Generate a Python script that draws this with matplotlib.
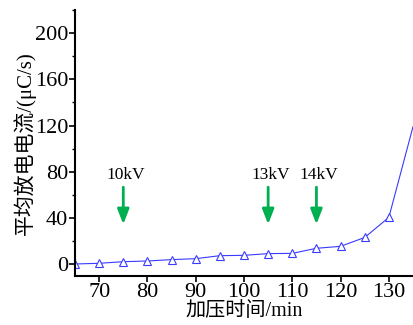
import matplotlib.pyplot as plt
from matplotlib.ticker import MultipleLocator

# data
time_min = [65, 70, 75, 80, 85, 90, 95, 100, 105, 110, 115, 120, 125, 130, 135]
current = [0, 0.6, 2, 2.6, 3.8, 4.6, 7.2, 7.5, 9, 9.2, 13.6, 15.3, 23, 40.4, 119]

arrow_x = [75, 105, 115]
arrow_labels = ["10kV", "13kV", "14kV"]

plt.rcParams['font.family'] = ['Liberation Serif', 'Noto Sans CJK SC']

fig = plt.figure(figsize=(4.13, 3.25), dpi=100)
ax = fig.add_axes([0.1816, 0.1508, 0.8184, 0.818])

# last point sits on the axis edge, no marker drawn there
ax.plot(time_min, current, color='#3a3aff', lw=0.8, marker='^', ms=6,
        markevery=slice(0, len(time_min) - 1),
        markerfacecolor='white', markeredgecolor='#3a3aff', markeredgewidth=0.8)

for x, lab in zip(arrow_x, arrow_labels):
    ax.annotate('', xy=(x, 32), xytext=(x, 69),
                arrowprops=dict(arrowstyle='-|>,head_width=0.35,head_length=0.9',
                                color='#00b050', lw=2))
    ax.text(x + 0.5, 77, lab, ha='center', va='center', fontsize=12.5)

ax.set_xlim(65, 135)
ax.set_ylim(-10.4, 220)
ax.xaxis.set_major_locator(MultipleLocator(10))
ax.yaxis.set_major_locator(MultipleLocator(40))
ax.yaxis.set_minor_locator(MultipleLocator(20))

ax.spines['top'].set_visible(False)
ax.spines['right'].set_visible(False)
ax.spines['left'].set_linewidth(1.5)
ax.spines['bottom'].set_linewidth(1.5)
ax.tick_params(axis='both', which='major', labelsize=16, width=1.2, length=4, pad=1)
ax.tick_params(axis='y', which='minor', width=1.0, length=2.5)

ax.set_xlabel('加压时间/min', fontsize=14.5, labelpad=0)
ax.set_ylabel('平均放电电流/(μC/s)', fontsize=15, labelpad=-1)

fig.savefig('out.png', dpi=100)
